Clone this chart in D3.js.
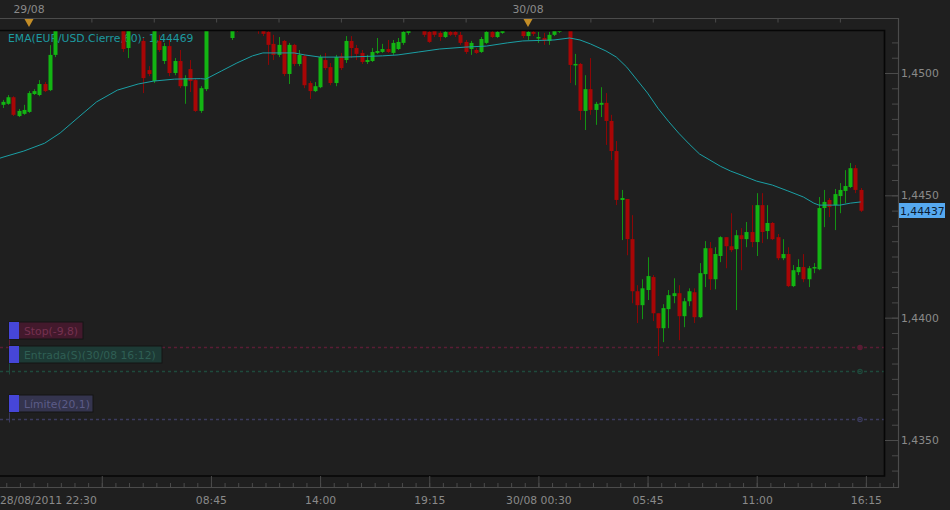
<!DOCTYPE html>
<html>
<head>
<meta charset="utf-8">
<script src="https://cdn.jsdelivr.net/npm/d3@7"></script>
<style>
  html, body { margin: 0; padding: 0; background: #1f1f1f; }
  svg { display: block; font-family: "DejaVu Sans", sans-serif; }
</style>
</head>
<body>
<svg id="chart" width="950" height="510"></svg>
<script>
// EUR/USD 15 min candles, 28/08/2011 22:45 -> 30/08/2011 16:00
const firstCandle = Date.UTC(2011, 7, 28, 22, 45);
const candleMinutes = 15;

const open = [
  1.44870,1.44874,1.44901,1.44824,1.44833,1.44841,1.44914,1.44910,1.44955,1.44930,
  1.45074,1.45217,1.45250,1.45279,1.45258,1.45291,1.45266,1.45238,1.45274,1.45250,
  1.45225,1.45258,1.45233,1.45197,1.45102,1.45192,1.45225,1.45131,1.45012,1.44967,
  1.45131,1.45049,1.45110,1.45000,1.45049,1.44946,1.45016,1.44971,1.44845,1.44934,
  1.45217,1.45250,1.45225,1.45258,1.45143,1.45208,1.45184,1.45217,1.45242,1.45208,
  1.45197,1.45168,1.45119,1.45074,1.45131,1.44996,1.45115,1.45037,1.45069,1.44959,
  1.44926,1.44942,1.45053,1.45024,1.44959,1.45069,1.45053,1.45131,1.45102,1.45082,
  1.45045,1.45049,1.45082,1.45086,1.45098,1.45082,1.45098,1.45123,1.45164,1.45197,
  1.45217,1.45184,1.45168,1.45176,1.45164,1.45147,1.45168,1.45168,1.45156,1.45127,
  1.45098,1.45094,1.45086,1.45123,1.45168,1.45147,1.45164,1.45184,1.45208,1.45192,
  1.45184,1.45151,1.45168,1.45143,1.45143,1.45131,1.45156,1.45168,1.45184,1.45176,
  1.45033,1.45037,1.44845,1.44934,1.44849,1.44870,1.44878,1.44804,1.44681,1.44481,
  1.44485,1.44321,1.44108,1.44051,1.44113,1.44166,1.44018,1.43957,1.44035,1.44088,
  1.44100,1.44006,1.44067,1.44104,1.44002,1.44178,1.44284,1.44157,1.44252,1.44329,
  1.44292,1.44280,1.44337,1.44321,1.44350,1.44309,1.44460,1.44354,1.44387,1.44329,
  1.44243,1.44260,1.44129,1.44186,1.44207,1.44157,1.44202,1.44198,1.44448,1.44481,
  1.44460,1.44497,1.44518,1.44534,1.44611,1.44522
];
const high = [
  1.44890,1.44910,1.44905,1.44853,1.44870,1.44926,1.44934,1.44971,1.44963,1.45114,
  1.45238,1.45266,1.45299,1.45307,1.45315,1.45307,1.45279,1.45287,1.45291,1.45266,
  1.45274,1.45270,1.45250,1.45225,1.45217,1.45250,1.45242,1.45143,1.45028,1.45184,
  1.45156,1.45123,1.45135,1.45061,1.45094,1.44991,1.45053,1.44979,1.44946,1.45238,
  1.45266,1.45274,1.45279,1.45283,1.45238,1.45225,1.45242,1.45266,1.45258,1.45233,
  1.45208,1.45176,1.45156,1.45147,1.45135,1.45123,1.45119,1.45094,1.45078,1.44967,
  1.44963,1.45074,1.45082,1.45041,1.45074,1.45082,1.45151,1.45151,1.45115,1.45094,
  1.45074,1.45102,1.45143,1.45119,1.45135,1.45135,1.45143,1.45184,1.45217,1.45238,
  1.45242,1.45208,1.45180,1.45192,1.45184,1.45184,1.45184,1.45176,1.45168,1.45135,
  1.45131,1.45102,1.45147,1.45176,1.45180,1.45184,1.45208,1.45233,1.45238,1.45225,
  1.45208,1.45184,1.45180,1.45168,1.45164,1.45168,1.45180,1.45201,1.45208,1.45192,
  1.45078,1.45041,1.44991,1.45061,1.44882,1.44942,1.44918,1.44829,1.44722,1.44522,
  1.44485,1.44419,1.44133,1.44157,1.44247,1.44174,1.44018,1.44055,1.44113,1.44161,
  1.44133,1.44080,1.44120,1.44120,1.44223,1.44313,1.44309,1.44288,1.44333,1.44329,
  1.44427,1.44358,1.44366,1.44391,1.44460,1.44509,1.44509,1.44460,1.44391,1.44342,
  1.44321,1.44288,1.44215,1.44239,1.44260,1.44211,1.44223,1.44493,1.44522,1.44489,
  1.44526,1.44550,1.44603,1.44632,1.44624,1.44530
];
const low = [
  1.44857,1.44870,1.44824,1.44820,1.44829,1.44837,1.44910,1.44905,1.44922,1.44926,
  1.45065,1.45201,1.45233,1.45242,1.45246,1.45250,1.45221,1.45225,1.45233,1.45208,
  1.45205,1.45213,1.45188,1.45086,1.45061,1.45184,1.45180,1.44918,1.44987,1.44959,
  1.45086,1.45037,1.44987,1.44991,1.44938,1.44874,1.44922,1.44841,1.44837,1.44926,
  1.45192,1.45201,1.45208,1.45188,1.45135,1.45168,1.45180,1.45192,1.45184,1.45160,
  1.45151,1.45033,1.45053,1.45065,1.44987,1.44955,1.45028,1.45028,1.44938,1.44894,
  1.44922,1.44938,1.45012,1.44950,1.44946,1.45012,1.45041,1.45061,1.45053,1.45037,
  1.45037,1.45045,1.45078,1.45082,1.45082,1.45074,1.45094,1.45115,1.45156,1.45184,
  1.45180,1.45147,1.45123,1.45147,1.45131,1.45143,1.45151,1.45147,1.45115,1.45078,
  1.45074,1.45078,1.45082,1.45119,1.45143,1.45143,1.45160,1.45176,1.45180,1.45180,
  1.45143,1.45135,1.45151,1.45123,1.45115,1.45115,1.45151,1.45164,1.45176,1.44959,
  1.44950,1.44808,1.44767,1.44829,1.44788,1.44820,1.44706,1.44644,1.44460,1.44317,
  1.44255,1.44059,1.43978,1.43994,1.44072,1.43986,1.43843,1.43900,1.43957,1.44059,
  1.43908,1.43961,1.44047,1.43978,1.43998,1.44125,1.44113,1.44116,1.44227,1.44202,
  1.44268,1.44031,1.44194,1.44288,1.44288,1.44252,1.44305,1.44321,1.44317,1.44235,
  1.44235,1.44125,1.44125,1.44174,1.44145,1.44125,1.44182,1.44194,1.44370,1.44411,
  1.44358,1.44427,1.44468,1.44530,1.44509,1.44432
];
const close = [
  1.44882,1.44901,1.44829,1.44845,1.44849,1.44918,1.44926,1.44955,1.44926,1.45074,
  1.45217,1.45250,1.45279,1.45258,1.45291,1.45266,1.45238,1.45274,1.45250,1.45225,
  1.45258,1.45233,1.45201,1.45098,1.45192,1.45225,1.45184,1.44979,1.44996,1.45172,
  1.45094,1.45110,1.45000,1.45049,1.44946,1.44979,1.44967,1.44845,1.44938,1.45217,
  1.45250,1.45225,1.45258,1.45208,1.45208,1.45172,1.45217,1.45242,1.45208,1.45184,
  1.45160,1.45115,1.45074,1.45115,1.44996,1.45115,1.45037,1.45074,1.44950,1.44926,
  1.44946,1.45065,1.45020,1.44959,1.45065,1.45020,1.45131,1.45102,1.45078,1.45045,
  1.45053,1.45086,1.45090,1.45098,1.45086,1.45123,1.45127,1.45168,1.45197,1.45217,
  1.45192,1.45156,1.45127,1.45156,1.45147,1.45168,1.45156,1.45156,1.45123,1.45086,
  1.45123,1.45082,1.45139,1.45168,1.45147,1.45168,1.45184,1.45208,1.45192,1.45201,
  1.45151,1.45168,1.45160,1.45147,1.45131,1.45156,1.45172,1.45184,1.45180,1.45033,
  1.45037,1.44845,1.44934,1.44849,1.44874,1.44878,1.44804,1.44681,1.44481,1.44489,
  1.44321,1.44108,1.44051,1.44120,1.44170,1.44018,1.43957,1.44039,1.44092,1.44100,
  1.44006,1.44067,1.44108,1.44002,1.44182,1.44284,1.44157,1.44260,1.44329,1.44292,
  1.44276,1.44337,1.44321,1.44350,1.44309,1.44460,1.44350,1.44387,1.44321,1.44243,
  1.44260,1.44129,1.44194,1.44207,1.44157,1.44202,1.44207,1.44448,1.44473,1.44452,
  1.44505,1.44522,1.44538,1.44611,1.44522,1.44437
];

// EMA(60), at these candle indexes
const emaIndex = [0,4,8,11,15,18,22,26,29,33,38,39,42,45,48,50,56,58,61,66,
  73,76,80,84,89,93,97,100,106,109,111,113,116,118,120,122,124,126,128,130,
  132,134,136,138,140,142,145,148,151,154,156,157,161,163,165];
const emaValue = [1.44656,1.44681,1.44713,1.44755,1.44828,1.44882,1.44930,1.44955,1.44967,1.44975,
  1.44977,1.44975,1.45008,1.45041,1.45070,1.45082,1.45082,1.45074,1.45065,1.45065,
  1.45070,1.45074,1.45086,1.45098,1.45106,1.45110,1.45123,1.45131,1.45135,1.45143,
  1.45135,1.45119,1.45090,1.45065,1.45024,1.44971,1.44918,1.44856,1.44803,1.44754,
  1.44710,1.44669,1.44644,1.44619,1.44599,1.44583,1.44558,1.44542,1.44518,1.44493,
  1.44468,1.44460,1.44460,1.44468,1.44473];
const emaStart = 1.44652; // value at the left edge of the plot
const emaLabel = "EMA(EUR/USD.Cierre,60): 1,44469";

// order levels
const orderNames = ["Stop(-9,8)", "Entrada(S)(30/08 16:12)", "Límite(20,1)"];
const orderPrices = [1.43882, 1.43784, 1.43585];

// axes
const priceTicks = [1.435, 1.440, 1.445, 1.450];
const dayMarks = ["2011-08-29T00:00Z", "2011-08-30T00:00Z"];
const dayLabels = ["29/08", "30/08"];
const timeTicks = ["2011-08-29T03:30Z", "2011-08-29T08:45Z", "2011-08-29T14:00Z", "2011-08-29T19:15Z",
  "2011-08-30T00:30Z", "2011-08-30T05:45Z", "2011-08-30T11:00Z", "2011-08-30T16:15Z"];
const timeLabels = ["", "08:45", "14:00", "19:15", "30/08 00:30", "05:45", "11:00", "16:15"];
const firstLabel = "28/08/2011 22:30";

const svg = d3.select("#chart");
const W = 950, H = 510;
const plot = {left: 0, top: 30, right: 884, bottom: 476};
const frameRight = 898, frameTop = 18, frameBottom = 487;
const fontSize = "10.8px";
const textGray = "#8a8a8a";

const fmt = v => d3.format(".4f")(v).replace(".", ",");
const fmt5 = v => d3.format(".5f")(v).replace(".", ",");

const x = d3.scaleUtc()
  .domain([new Date(dayMarks[0]), new Date(dayMarks[1])])
  .range([29, 528]);
const y = d3.scaleLinear()
  .domain([1.435, 1.450])
  .range([440, 73]);

const candles = open.map((o, i) => ({
  t: new Date(firstCandle + i * candleMinutes * 60000),
  o: o, h: high[i], l: low[i], c: close[i]
}));

svg.append("rect").attr("width", W).attr("height", H).attr("fill", "#1f1f1f");

svg.append("defs").append("clipPath").attr("id", "plotclip")
  .append("rect")
  .attr("x", plot.left).attr("y", plot.top + 1)
  .attr("width", plot.right - plot.left).attr("height", plot.bottom - plot.top - 1);

// EMA caption sits under the candles
svg.append("text")
  .attr("x", 8).attr("y", 42)
  .attr("fill", "#1c9aa0")
  .attr("font-size", fontSize)
  .text(emaLabel);

// order lines
const orderColors = ["#5a1d34", "#1f4a3c", "#3b3b5e"];
const boxFill = ["#43192c", "#1d3a35", "#34344e"];
const boxText = ["#753150", "#2f5f54", "#5c5c88"];
const boxTop = [322, 346, 395];
const boxWidth = [74, 153, 84];

const orders = svg.append("g");
orderPrices.forEach((p, i) => {
  const yy = Math.round(y(p)) + 0.5;
  orders.append("line")
    .attr("x1", 0).attr("x2", plot.right).attr("y1", yy).attr("y2", yy)
    .attr("stroke", orderColors[i]).attr("stroke-width", 1.3)
    .attr("stroke-dasharray", "3,3");
  orders.append("circle")
    .attr("cx", 860).attr("cy", yy).attr("r", 2.2)
    .attr("fill", i === 0 ? orderColors[0] : "none")
    .attr("stroke", orderColors[i]).attr("stroke-width", 1.2);
  orders.append("line")
    .attr("x1", 9.5).attr("x2", 9.5)
    .attr("y1", boxTop[i] + 17).attr("y2", yy + 3)
    .attr("stroke", orderColors[i]);
  orders.append("rect")
    .attr("x", 9).attr("y", boxTop[i]).attr("width", boxWidth[i]).attr("height", 17)
    .attr("fill", boxFill[i]).attr("stroke", "#151515");
  orders.append("rect")
    .attr("x", 9).attr("y", boxTop[i]).attr("width", 10).attr("height", 17)
    .attr("fill", "#4646d8");
  orders.append("text")
    .attr("x", 24).attr("y", boxTop[i] + 12.5)
    .attr("fill", boxText[i]).attr("font-size", fontSize)
    .text(orderNames[i]);
});

// candles
const gC = svg.append("g").attr("clip-path", "url(#plotclip)");
const up = d => d.c >= d.o;
const bodyW = 4;

gC.selectAll("line.wick").data(candles).join("line")
  .attr("class", "wick")
  .attr("x1", d => Math.round(x(d.t)) + 0.5)
  .attr("x2", d => Math.round(x(d.t)) + 0.5)
  .attr("y1", d => y(d.h)).attr("y2", d => y(d.l))
  .attr("stroke", d => up(d) ? "#139313" : "#8c0606")
  .attr("stroke-width", 1);

gC.selectAll("rect.body").data(candles).join("rect")
  .attr("class", "body")
  .attr("x", d => Math.round(x(d.t)) - bodyW / 2 + 0.5)
  .attr("width", bodyW)
  .attr("y", d => y(Math.max(d.o, d.c)))
  .attr("height", d => Math.max(1.5, Math.abs(y(d.o) - y(d.c))))
  .attr("fill", d => up(d) ? "#13b513" : "#a80606");

// EMA line
const emaPts = [[x.invert(plot.left), emaStart]]
  .concat(emaIndex.map((k, i) => [candles[k].t, emaValue[i]]));
gC.append("path")
  .datum(emaPts)
  .attr("fill", "none")
  .attr("stroke", "#1a9fa5")
  .attr("stroke-width", 1)
  .attr("d", d3.line().x(d => x(d[0])).y(d => y(d[1])));

// frame
const frame = svg.append("g");
frame.append("path")
  .attr("d", `M0,${frameTop + 0.5}H${frameRight + 0.5}V${frameBottom + 0.5}H0`)
  .attr("fill", "none").attr("stroke", "#4b4b4b").attr("stroke-width", 1.2);
frame.append("path")
  .attr("d", `M0,${plot.top + 0.5}H${plot.right + 0.5}V${plot.bottom}H0`)
  .attr("fill", "none").attr("stroke", "#060606").attr("stroke-width", 1.6);

// top axis (every 3h) + day markers
const topTicks = d3.utcHour.every(3).range(x.invert(0), x.invert(plot.right));
svg.append("g")
  .attr("transform", `translate(0,${frameTop + 0.5})`)
  .call(d3.axisBottom(x).tickValues(topTicks).tickSize(4).tickFormat(""))
  .call(g => g.select(".domain").remove())
  .call(g => g.selectAll("line").attr("stroke", "#4b4b4b"));

dayMarks.forEach((d, i) => {
  const xx = x(new Date(d));
  svg.append("path")
    .attr("d", `M${xx - 4.5},19L${xx + 4.5},19L${xx},27Z`)
    .attr("fill", "#c38d27");
  svg.append("text")
    .attr("x", xx).attr("y", 13)
    .attr("text-anchor", "middle")
    .attr("fill", textGray).attr("font-size", fontSize)
    .text(dayLabels[i]);
});

// bottom axis
const tickDates = timeTicks.map(s => new Date(s));
const majorStep = tickDates[1] - tickDates[0];
const minorTicks = d3.range(-8, 8 * 8 + 2).map(k => new Date(+tickDates[0] + k * majorStep / 8))
  .filter(d => x(d) >= 0 && x(d) <= frameRight);

svg.append("g")
  .attr("transform", `translate(0,${frameBottom})`)
  .call(d3.axisBottom(x).tickValues(minorTicks).tickSize(-4).tickFormat(""))
  .call(g => g.select(".domain").remove())
  .call(g => g.selectAll("line").attr("stroke", "#4b4b4b"));

svg.append("g")
  .attr("transform", `translate(0,${frameBottom})`)
  .call(d3.axisBottom(x).tickValues(tickDates).tickSize(-11).tickPadding(9)
    .tickFormat((d, i) => timeLabels[i]))
  .call(g => g.select(".domain").remove())
  .call(g => g.selectAll("line").attr("stroke", "#4b4b4b"))
  .call(g => g.selectAll("text").attr("fill", textGray)
    .attr("font-size", fontSize).attr("font-family", "DejaVu Sans, sans-serif"));

svg.append("text")
  .attr("x", 0).attr("y", 504)
  .attr("fill", textGray).attr("font-size", fontSize)
  .text(firstLabel);

// right price axis
const pMinor = d3.range(0, 32).map(k => 1.4325 + k * 0.000625)
  .filter(v => y(v) > plot.top && y(v) < plot.bottom);
svg.append("g")
  .attr("transform", `translate(${frameRight},0)`)
  .call(d3.axisRight(y).tickValues(pMinor).tickSize(-6).tickFormat(""))
  .call(g => g.select(".domain").remove())
  .call(g => g.selectAll("line").attr("stroke", "#4b4b4b"));

svg.append("g")
  .attr("transform", `translate(${frameRight},0)`)
  .call(d3.axisRight(y).tickValues(priceTicks).tickSize(-13).tickPadding(3).tickFormat(fmt))
  .call(g => g.select(".domain").remove())
  .call(g => g.selectAll("line").attr("stroke", "#4b4b4b"))
  .call(g => g.selectAll("text").attr("fill", textGray)
    .attr("font-size", fontSize).attr("font-family", "DejaVu Sans, sans-serif"));

// last price box
const last = close[close.length - 1];
const yl = Math.round(y(last));
svg.append("rect")
  .attr("x", 899).attr("y", yl - 8).attr("width", 46).attr("height", 15)
  .attr("fill", "#56a9f0");
svg.append("text")
  .attr("x", 900).attr("y", yl + 3.5)
  .attr("fill", "#0b1b30").attr("font-size", fontSize)
  .text(fmt5(last));
</script>
</body>
</html>
